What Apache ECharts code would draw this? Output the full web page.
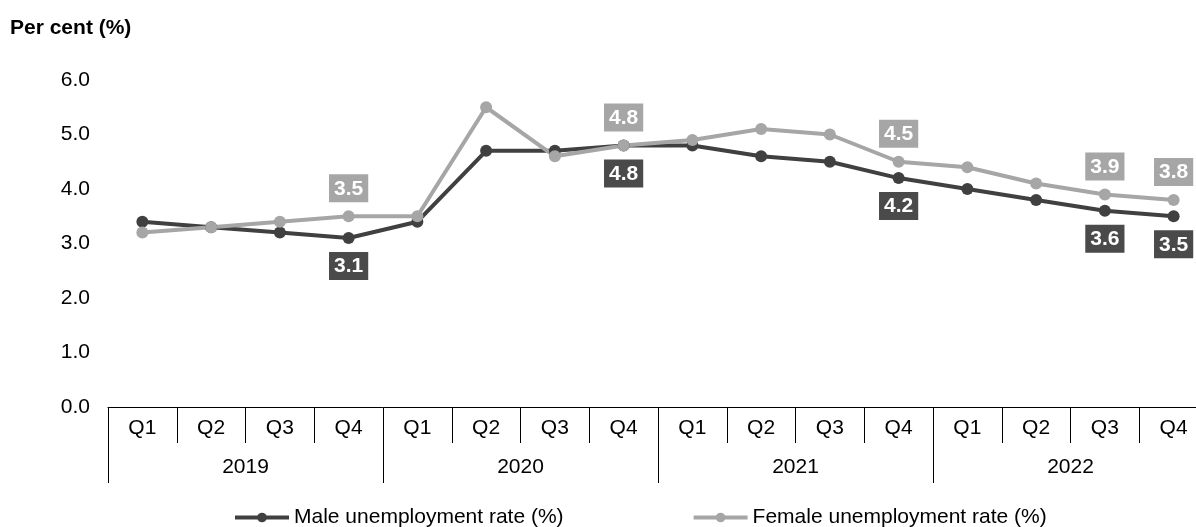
<!DOCTYPE html>
<html>
<head>
<meta charset="utf-8">
<script src="https://cdn.jsdelivr.net/npm/echarts@6/dist/echarts.min.js"></script>
<style>html,body{margin:0;padding:0;background:#fff;overflow:hidden;width:1196px;height:527px;}#c{width:1208px;height:527px;}</style>
</head>
<body>
<div id="c"></div>
<script>
const quarters = ['Q1','Q2','Q3','Q4','Q1','Q2','Q3','Q4','Q1','Q2','Q3','Q4','Q1','Q2','Q3','Q4'];
const years = ['2019','2020','2021','2022'];
const maleRate = [3.4, 3.3, 3.2, 3.1, 3.4, 4.7, 4.7, 4.8, 4.8, 4.6, 4.5, 4.2, 4.0, 3.8, 3.6, 3.5];
const femaleRate = [3.2, 3.3, 3.4, 3.5, 3.5, 5.5, 4.6, 4.8, 4.9, 5.1, 5.0, 4.5, 4.4, 4.1, 3.9, 3.8];
const labelledIdx = [3, 7, 11, 14, 15];
const yTicks = [0, 1, 2, 3, 4, 5, 6];

const FONT = 'Liberation Sans, Arial, sans-serif';
const FS = 21;
const MALE = '#404040', MALE_LBL = '#4a4a4a';
const FEMALE = '#a6a6a6';

function mk(vals, bg, pos) {
  return vals.map((v, i) => labelledIdx.includes(i) ? {
    value: v,
    label: {
      show: true, position: pos, distance: 8,
      formatter: p => p.value.toFixed(1),
      color: '#fff', fontWeight: 'bold', fontSize: FS, fontFamily: FONT,
      backgroundColor: bg, padding: [4, 5, 3, 5], lineHeight: 21
    }
  } : v);
}

const chart = echarts.init(document.getElementById('c'), null, {renderer: 'canvas'});
chart.setOption({
  animation: false,
  backgroundColor: '#fff',
  textStyle: {fontFamily: FONT},
  graphic: [{
    type: 'text', left: 10, top: 18,
    style: {text: 'Per cent (%)', font: 'bold ' + FS + 'px ' + FONT, fill: '#000'}
  }],
  legend: {
    left: 233, top: 507, padding: 0,
    itemWidth: 54, itemHeight: 12, itemGap: 128,
    lineStyle: {width: 4},
    textStyle: {fontSize: FS, color: '#000', fontFamily: FONT},
    data: ['Male unemployment rate (%)', 'Female unemployment rate (%)']
  },
  grid: {left: 108, top: 80, right: 0, height: 327, containLabel: false},
  xAxis: [{
    type: 'category', data: quarters, position: 'bottom', boundaryGap: true,
    axisLine: {show: true, lineStyle: {color: '#000', width: 1}},
    axisTick: {show: true, length: 36, interval: 0, lineStyle: {color: '#000', width: 1}},
    axisLabel: {interval: 0, margin: 11, fontSize: FS, color: '#000', fontFamily: FONT},
    splitLine: {show: false}
  }, {
    type: 'category', data: years, position: 'bottom', offset: 0, boundaryGap: true,
    axisLine: {show: false},
    axisTick: {show: true, length: 76, interval: 0, lineStyle: {color: '#000', width: 1}},
    axisLabel: {interval: 0, margin: 50, fontSize: FS, color: '#000', fontFamily: FONT},
    splitLine: {show: false}
  }],
  yAxis: {
    type: 'value', min: yTicks[0], max: yTicks[yTicks.length - 1], interval: 1,
    axisLine: {show: false}, axisTick: {show: false}, splitLine: {show: false},
    axisLabel: {margin: 18, fontSize: FS, color: '#000', fontFamily: FONT, formatter: v => v.toFixed(1)}
  },
  series: [{
    name: 'Male unemployment rate (%)', type: 'line', xAxisIndex: 0,
    data: mk(maleRate, MALE_LBL, 'bottom'),
    symbol: 'circle', symbolSize: 12, showAllSymbol: true,
    lineStyle: {color: MALE, width: 4}, itemStyle: {color: MALE}
  }, {
    name: 'Female unemployment rate (%)', type: 'line', xAxisIndex: 0,
    data: mk(femaleRate, FEMALE, 'top'),
    symbol: 'circle', symbolSize: 12, showAllSymbol: true,
    lineStyle: {color: FEMALE, width: 4}, itemStyle: {color: FEMALE}
  }]
});
</script>
</body>
</html>
